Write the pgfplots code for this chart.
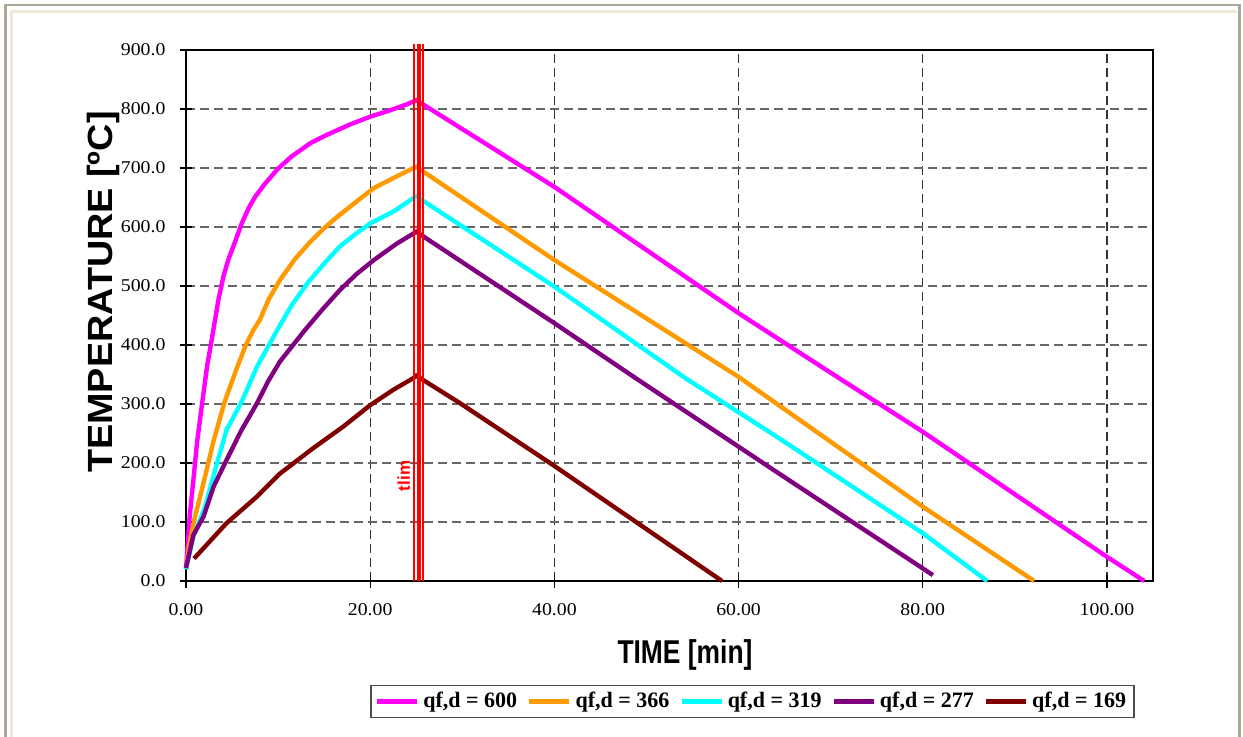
\documentclass[border=0pt]{standalone}
\usepackage{fontspec}
\setmainfont{Liberation Serif}
\newfontfamily\arialf{Liberation Sans}
\newfontfamily\arialx{Liberation Sans}[FakeStretch=0.8]
\newfontfamily\arialy{Liberation Sans}[FakeStretch=1.08]
\newfontfamily\tickf{Liberation Serif}[FakeStretch=1.1]
\usepackage{pgfplots}
\pgfplotsset{compat=1.18}
\definecolor{xpgray}{HTML}{ACA899}
\definecolor{xpcream}{HTML}{ECE9D8}
\definecolor{qorange}{HTML}{FF9900}
\definecolor{qcyan}{HTML}{00FFFF}
\definecolor{qmag}{HTML}{FF00FF}
\definecolor{qpurple}{HTML}{800080}
\definecolor{qmaroon}{HTML}{800000}
\begin{document}
\begin{tikzpicture}
\useasboundingbox (0pt,0pt) rectangle (621.5pt,368pt);
\fill[white] (0pt,0pt) rectangle (621.5pt,368pt);
\draw[xpgray, line width=1.3pt] (2.75pt,-5pt) -- (2.75pt,365.5pt) -- (619.75pt,365.5pt) -- (619.75pt,-5pt);
\draw[xpcream, line width=1.3pt] (5.7pt,-5pt) -- (5.7pt,362.4pt) -- (618.4pt,362.4pt);
\begin{axis}[
  at={(93pt,77.5pt)}, anchor=south west,
  scale only axis, width=483.5pt, height=265.5pt,
  xmin=0, xmax=105, ymin=0, ymax=900,
  xtick={0,20,...,100}, ytick={0,100,...,900},
  xtick pos=left, ytick pos=left,
  tick align=center, major tick length=6.5pt,
  every tick/.style={black, line width=0.6pt},
  axis line style={black, line width=1pt},
  grid=major,
  x grid style={black!80, line width=0.6pt, dash pattern=on 4.5pt off 2.5pt},
  y grid style={black!60, line width=0.8pt, dash pattern=on 4.5pt off 2.5pt},
  tick label style={font=\tickf\fontsize{9}{10}\selectfont},
  x tick label style={/pgf/number format/.cd, fixed, fixed zerofill, precision=2, assume math mode=true, /tikz/.cd, yshift=-4.5pt},
  y tick label style={/pgf/number format/.cd, fixed, fixed zerofill, precision=1, assume math mode=true, /tikz/.cd, xshift=-3.5pt},
  xlabel={TIME [min]},
  xlabel style={at={(axis description cs:0.516,-0.139)}, anchor=center, font=\arialx\bfseries\fontsize{16.5}{19}\selectfont},
  ylabel={TEMPERATURE [ºC]},
  ylabel style={at={(axis description cs:-0.0858,0.544)}, anchor=center, font=\arialy\bfseries\fontsize{17.5}{20}\selectfont},
  clip=false,
  legend columns=5,
  legend image code/.code={\draw[#1] (0pt,0pt) -- (20pt,0pt);},
  legend style={at={(axis description cs:0.5858,-0.2269)}, anchor=center, draw=black!70, line width=0.7pt,
    font=\bfseries\fontsize{11}{13}\selectfont, inner xsep=2pt, inner ysep=1.5pt,
    /tikz/every even column/.append style={column sep=3pt}},
]
\addplot[qmag, line width=2.2pt] coordinates {
(0,20) (0.4,110) (0.8,171) (1.2,235) (1.7,295) (2.3,365) (2.97,425) (3.5,475) (4.06,516) (4.6,545) (5.14,567) (6.05,606) (6.8,632) (7.5,651) (8.5,672) (10,699) (11.5,720) (13.5,742) (15,754) (16.4,764) (18,775) (20,787) (22,797) (24,808) (25,815)
(30,766) (35,717) (40,668) (50,561) (60,454) (70,353) (80,253) (90,147) (100,41) (104.05,0)};
\addlegendentry{qf,d = 600}
\addplot[qorange, line width=2.2pt] coordinates {
(0,20) (0.43,69) (1.0,110) (1.9,166) (3.0,238) (4.2,304) (5.5,360) (6.5,400) (7.3,425) (8.0,442) (9,478) (10.2,510) (11.8,545) (13.5,575) (15,598) (16.4,617) (18.5,643) (20.4,666) (22.9,686) (24.7,700) (25,702)
(40,544) (50,445) (60,346) (70,236) (80,126) (92.1,0)};
\addlegendentry{qf,d = 366}
\addplot[qcyan, line width=2.2pt] coordinates {
(0,20) (0.8,75) (2.07,126) (3.2,190) (4.4,256) (6.05,304) (7.7,363) (9.9,425) (11.5,468) (13.3,507) (15,538) (16.7,567) (18.4,588) (20,606) (22.5,626) (24.7,649) (25,652)
(40,499) (54.3,343) (64.4,242) (80,81) (87,0)};
\addlegendentry{qf,d = 319}
\addplot[qpurple, line width=2.2pt] coordinates {
(0,22) (0.8,78) (1.9,109) (3,160) (4.4,205) (6,255) (7.7,301) (8.9,338) (10.2,372) (12.9,425) (14.8,460) (16.7,493) (18.5,520) (20.4,544) (22.9,572) (24.7,589) (25,592)
(40,437) (48.9,343) (64.4,182) (81.1,10)};
\addlegendentry{qf,d = 277}
\addplot[qmaroon, line width=2.2pt] coordinates {
(0.87,38) (4.4,98) (7.7,143) (10.2,182) (13.8,225) (17.1,262) (20,298) (22.5,324) (24.7,344) (25,348)
(29.7,302) (40,195) (58.2,0)};
\addlegendentry{qf,d = 169}
\addplot[red, line width=0.8pt, forget plot] coordinates {(24.75,0) (24.75,910)};
\addplot[red, line width=2pt, forget plot] coordinates {(25.25,0) (25.25,910)};
\addplot[red, line width=0.8pt, forget plot] coordinates {(25.75,0) (25.75,910)};
\node[rotate=90, text=red, font=\arialf\bfseries\fontsize{8.5}{10}\selectfont] at (axis cs:23.65,178) {tlim};
\end{axis}
\end{tikzpicture}
\end{document}
